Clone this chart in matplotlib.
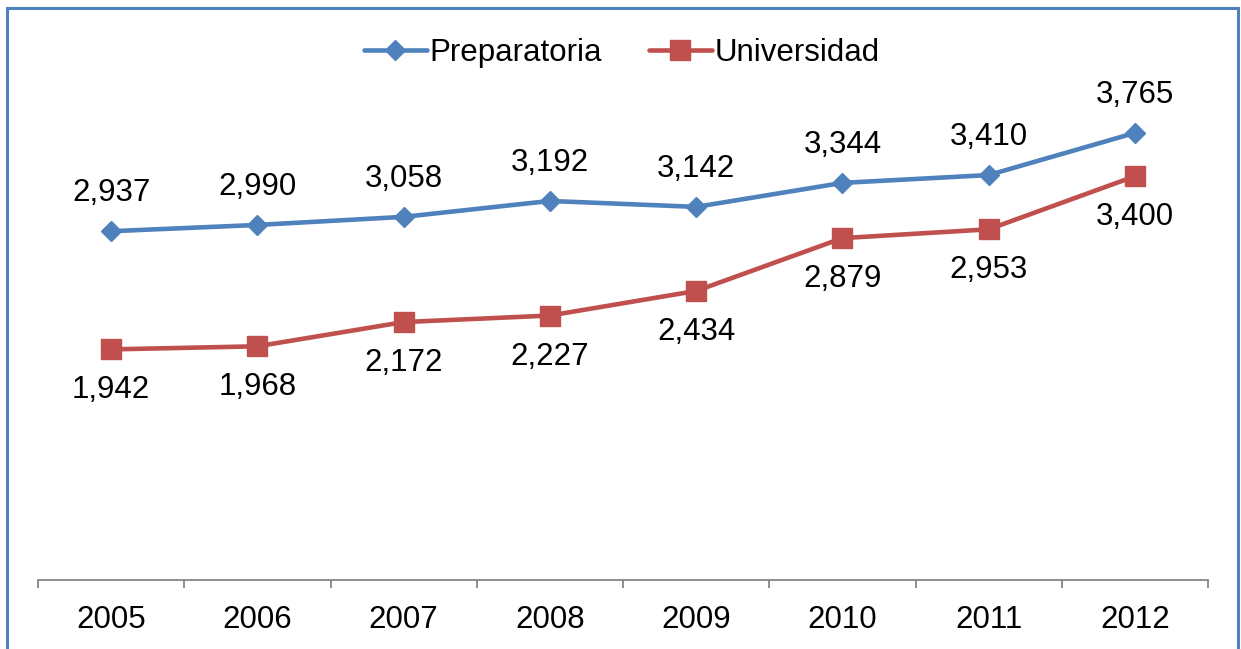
import matplotlib
matplotlib.use("Agg")
import matplotlib.pyplot as plt
from matplotlib.patches import Rectangle

years = ["2005", "2006", "2007", "2008", "2009", "2010", "2011", "2012"]
preparatoria = [2937, 2990, 3058, 3192, 3142, 3344, 3410, 3765]
universidad = [1942, 1968, 2172, 2227, 2434, 2879, 2953, 3400]

blue = "#4F81BD"
red = "#C0504D"
plt.rcParams["font.family"] = ["Liberation Sans", "DejaVu Sans"]
fs = 22.5

fig = plt.figure(figsize=(12.41, 6.49), dpi=100)
ax = fig.add_axes([38 / 1241, 1 - 580 / 649, 1170 / 1241, 475 / 649])

x = list(range(len(years)))
ax.plot(x, preparatoria, color=blue, lw=3.3, marker="D", ms=10,
        label="Preparatoria", solid_capstyle="round")
ax.plot(x, universidad, color=red, lw=3.3, marker="s", ms=14.5,
        label="Universidad", solid_capstyle="round")

# etiquetas de datos
for xi, v in zip(x, preparatoria):
    ax.annotate(f"{v:,}", (xi, v), xytext=(0, 27.5), textcoords="offset points",
                ha="center", va="center", fontsize=fs)
for xi, v in zip(x, universidad):
    ax.annotate(f"{v:,}", (xi, v), xytext=(0, -29.5), textcoords="offset points",
                ha="center", va="center", fontsize=fs)

ax.set_xlim(-0.5, len(years) - 0.5)
ax.set_ylim(0, 4000)
ax.set_yticks([])
for s in ["top", "right", "left"]:
    ax.spines[s].set_visible(False)
ax.spines["bottom"].set_color("#868686")
ax.spines["bottom"].set_linewidth(1.3)
ax.set_xticks([i - 0.5 for i in range(len(years) + 1)])
ax.set_xticklabels([])
ax.set_xticks(x, minor=True)
ax.set_xticklabels(years, minor=True, fontsize=fs)
ax.tick_params(axis="x", which="major", length=6, width=1.3, color="#868686", direction="out")
ax.tick_params(axis="x", which="minor", length=0, pad=18)

fig.legend(loc="center", bbox_to_anchor=(622 / 1241, 1 - 53 / 649), ncol=2,
           frameon=False, fontsize=fs, handlelength=2.0, handletextpad=0.1,
           columnspacing=1.5)

fig.patches.append(Rectangle((7 / 1241, -0.05), 1231 / 1241, 1 - 8 / 649 + 0.05,
                             transform=fig.transFigure, fill=False,
                             edgecolor=blue, lw=2.2))

fig.savefig("out.png", dpi=100)
